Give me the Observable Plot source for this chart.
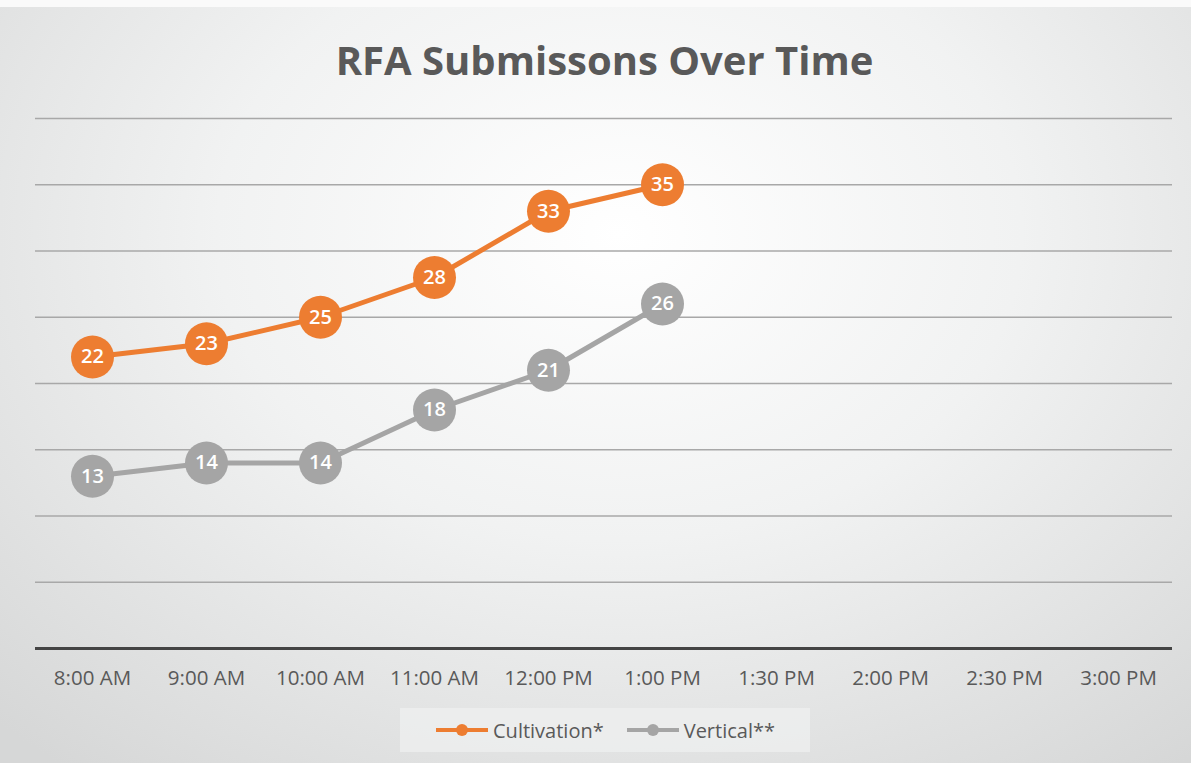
<!DOCTYPE html>
<html><head><meta charset="utf-8">
<script src="https://cdn.jsdelivr.net/npm/d3@7"></script>
<script src="https://cdn.jsdelivr.net/npm/@observablehq/plot@0.6"></script>
<style>
html,body{margin:0;padding:0;background:#fff;}
#wrap{position:relative;width:1191px;height:763px;box-sizing:border-box;border-top:7px solid #fafafa;
background:radial-gradient(ellipse 75% 90% at 52% 30%, #ffffff 0%, #f1f2f2 45%, #d6d7d7 100%);overflow:hidden;font-family:"Open Sans",sans-serif;}
#title{position:absolute;left:18px;right:0;top:28px;height:50px;line-height:50px;text-align:center;
font-family:"Open Sans",sans-serif;font-weight:bold;font-size:40px;color:#595959;}
#chart{position:absolute;left:0;top:86px;}
#legend{position:absolute;left:400px;top:701px;width:410px;height:44px;background:rgba(236,237,237,0.9);
display:flex;align-items:center;justify-content:center;gap:22px;font-size:20px;color:#595959;}
.item{display:flex;align-items:center;gap:4px;}
</style></head>
<body><div id="wrap"><div id="title">RFA Submissons Over Time</div><div id="chart"></div>
<div id="legend"><div class="item"><svg width="54" height="14"><line x1="1" y1="7" x2="53" y2="7" stroke="#ED7D31" stroke-width="4"/><circle cx="27" cy="7" r="6" fill="#ED7D31"/></svg><span>Cultivation*</span></div>
<div class="item"><svg width="54" height="14"><line x1="1" y1="7" x2="53" y2="7" stroke="#A5A5A5" stroke-width="4"/><circle cx="27" cy="7" r="6" fill="#A5A5A5"/></svg><span>Vertical**</span></div></div>
</div>
<script>
const times = ["8:00 AM","9:00 AM","10:00 AM","11:00 AM","12:00 PM","1:00 PM","1:30 PM","2:00 PM","2:30 PM","3:00 PM"];
const cultivationTimes = ["8:00 AM","9:00 AM","10:00 AM","11:00 AM","12:00 PM","1:00 PM"];
const cultivation = [22,23,25,28,33,35];
const vertical = [13,14,14,18,21,26];
const gridValues = [5,10,15,20,25,30,35,40];

const cult = cultivationTimes.map((t,i)=>({time:t,value:cultivation[i]}));
const vert = cultivationTimes.map((t,i)=>({time:t,value:vertical[i]}));

const chart = Plot.plot({
  width:1191, height:607,
  marginLeft:35, marginRight:16, marginTop:25, marginBottom:52,
  style:{background:"transparent", fontFamily:"'Open Sans',sans-serif", overflow:"visible"},
  x:{type:"point", domain:times, padding:0.5, label:null},
  y:{domain:[0,40], axis:null},
  marks:[
    Plot.ruleY(gridValues,{stroke:"#a8a8a8", strokeWidth:1.3, insetRight:3}),
    Plot.ruleY([0],{stroke:"#444", strokeWidth:3, insetRight:3}),
    Plot.axisX({tickSize:0, tickPadding:22, fontSize:20.5, fill:"#595959", label:null}),
    Plot.line(vert,{x:"time", y:"value", stroke:"#A5A5A5", strokeWidth:5}),
    Plot.dot(vert,{x:"time", y:"value", r:21.5, fill:"#A5A5A5"}),
    Plot.text(vert,{x:"time", y:"value", text:"value", fill:"#fff", fontSize:20, fontWeight:600}),
    Plot.line(cult,{x:"time", y:"value", stroke:"#ED7D31", strokeWidth:5}),
    Plot.dot(cult,{x:"time", y:"value", r:21.5, fill:"#ED7D31"}),
    Plot.text(cult,{x:"time", y:"value", text:"value", fill:"#fff", fontSize:20, fontWeight:600})
  ]
});
document.getElementById("chart").appendChild(chart);
</script>
</body></html>
